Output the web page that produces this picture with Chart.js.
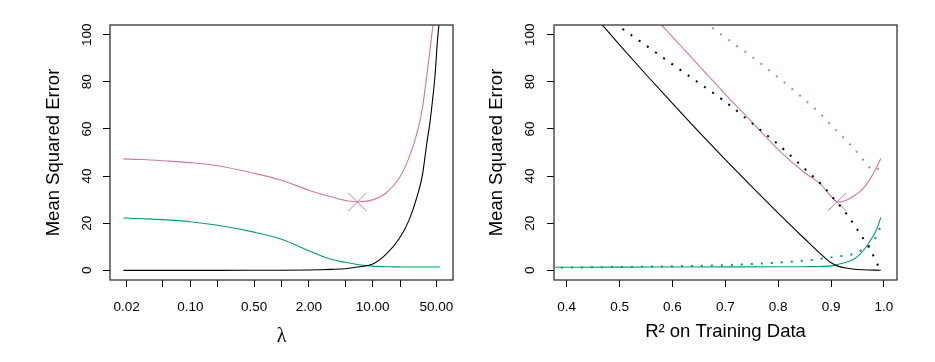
<!DOCTYPE html>
<html lang="en">
<head>
  <meta charset="UTF-8">
  <title>Lasso bias-variance</title>
  <script src="https://cdn.jsdelivr.net/npm/chart.js"></script>
  <style>
    body { margin: 0; background: #fff; }
    .wrap { position: relative; width: 935px; height: 362px; }
    canvas { position: absolute; top: 0; }
    #left { left: 0; }
    #right { left: 467px; }
  </style>
</head>
<body>
<div class="wrap">
  <canvas id="left" width="467" height="362"></canvas>
  <canvas id="right" width="468" height="362"></canvas>
</div>
<script>
  // left panel: curves against lambda
  const lambdaVals = [0.0184, 0.03, 0.05, 0.1, 0.2, 0.5, 1, 2, 2.7, 3.5, 5, 6.8, 10, 14, 19.6, 25, 31, 35.2, 39.3, 42.4, 46, 48.4, 51.3, 53.4, 55.2];
  const lassoMSE  = [47.3, 47.0, 46.5, 45.7, 44.4, 41.2, 38.2, 34.0, 32.4, 31.2, 29.7, 29.0, 29.9, 32.8, 39.2, 47.7, 59.0, 68.9, 83.0, 93.0, 104.5, 112, 125, 135, 145];
  const lassoVar  = [22.2, 21.9, 21.5, 20.6, 19.1, 16.2, 13.2, 8.3, 6.2, 4.7, 3.4, 2.5, 1.8, 1.55, 1.45, 1.4, 1.4, 1.4, 1.4, 1.4, 1.4, 1.4, 1.4, 1.4, 1.4];
  const lassoBias = [0, 0, 0, 0, 0, 0.02, 0.05, 0.15, 0.25, 0.4, 0.7, 1.4, 2.7, 6.8, 13.5, 21.2, 31.8, 40.6, 54, 62.4, 74.3, 83, 97.2, 104.5, 112];
  const lambdaTicks  = [0.02, 0.05, 0.1, 0.2, 0.5, 1, 2, 5, 10, 20, 50];
  const lambdaLabels = ['0.02', '', '0.10', '', '0.50', '', '2.00', '', '10.00', '', '50.00'];
  const lambdaMin = [6.8], lambdaMinMSE = [29.0];

  // right panel: curves against training R^2 (solid = lasso, dotted = ridge)
  const lassoBiasR2   = [0.46, 0.5, 0.55, 0.6, 0.65, 0.7, 0.75, 0.8, 0.85, 0.878, 0.89, 0.9, 0.91, 0.925, 0.94, 0.96, 0.994];
  const lassoBiasVals = [106.0, 95.7, 83.1, 70.8, 58.7, 47.0, 35.5, 24.3, 13.4, 7.4, 5.0, 3.2, 2.0, 1.1, 0.6, 0.25, 0.05];
  const ridgeBiasR2   = [0.49, 0.55, 0.6, 0.65, 0.7, 0.75, 0.8, 0.85, 0.887, 0.9, 0.924, 0.946, 0.967, 0.977, 0.985, 0.994];
  const ridgeBiasVals = [104.9, 95.4, 87.4, 79.5, 71.5, 62.5, 53.4, 43.1, 35.2, 31.7, 25.5, 18.5, 11.3, 7.6, 3.6, 0.2];
  const lassoMseR2    = [0.57, 0.6, 0.65, 0.7, 0.75, 0.8, 0.85, 0.88, 0.9, 0.911, 0.925, 0.941, 0.96, 0.973, 0.985, 0.994];
  const lassoMseVals  = [106.4, 99.1, 86.9, 74.7, 63.0, 51.2, 41.4, 36.6, 31.4, 29.0, 29.4, 31.2, 34.6, 38.5, 43.2, 47.5];
  const ridgeMseR2    = [0.66, 0.697, 0.758, 0.818, 0.876, 0.9, 0.942, 0.954, 0.967, 0.979, 0.99];
  const ridgeMseVals  = [105.5, 99.3, 89.3, 78.5, 67.2, 61.7, 51.9, 48.7, 45.3, 42.4, 43.1];
  const lassoVarR2    = [0.378, 0.5, 0.6, 0.7, 0.8, 0.85, 0.88, 0.904, 0.92, 0.941, 0.955, 0.967, 0.978, 0.986, 0.994];
  const lassoVarVals  = [1.3, 1.35, 1.4, 1.45, 1.5, 1.55, 1.65, 2.0, 2.9, 4.5, 6.9, 10.2, 14.0, 17.3, 22.5];
  const ridgeVarR2    = [0.389, 0.45, 0.5, 0.55, 0.6, 0.65, 0.7, 0.75, 0.8, 0.85, 0.87, 0.9, 0.92, 0.941, 0.958, 0.97, 0.98, 0.987, 0.993];
  const ridgeVarVals  = [1.15, 1.3, 1.4, 1.55, 1.75, 1.95, 2.2, 2.7, 3.3, 4.1, 4.6, 5.5, 6.1, 6.9, 8.6, 10.0, 12.5, 15.0, 18.5];
  const r2Ticks = [0.4, 0.5, 0.6, 0.7, 0.8, 0.9, 1.0];
  const r2Min = [0.911], r2MinMSE = [29.0];

  const mseTicks = [0, 20, 40, 60, 80, 100];

  const PINK = '#CC79A7', GREEN = '#009E73', BLACK = '#000000';
  Chart.defaults.font.family = '"Liberation Sans", Arial, sans-serif';
  Chart.defaults.color = '#000';

  const pts = (xs, ys) => xs.map((x, i) => ({ x: x, y: ys[i] }));

  function curve(xs, ys, color, dotted) {
    return {
      data: pts(xs, ys),
      borderColor: color,
      borderWidth: dotted ? 2 : 1.1,
      borderDash: dotted ? [2, 8] : [],
      pointRadius: 0,
      cubicInterpolationMode: 'monotone',
      fill: false
    };
  }

  function marker(xs, ys) {
    return {
      type: 'scatter',
      data: pts(xs, ys),
      pointStyle: 'crossRot',
      pointRadius: 13,
      borderColor: PINK,
      borderWidth: 1,
      backgroundColor: PINK
    };
  }

  // box round the plot region, like R's box()
  const frame = {
    id: 'frame',
    afterDraw(chart) {
      const a = chart.chartArea, c = chart.ctx;
      c.save();
      c.strokeStyle = '#333';
      c.lineWidth = 1.3;
      c.strokeRect(a.left, a.top, a.right - a.left, a.bottom - a.top);
      c.restore();
    }
  };

  function yAxis(width, tickPad, titlePad) {
    return {
      min: -4.1, max: 104.1,
      afterBuildTicks: s => { s.ticks = mseTicks.map(v => ({ value: v })); },
      afterFit: s => { s.width = width; },
      grid: { drawOnChartArea: false, tickLength: 7, color: '#000' },
      border: { display: false },
      ticks: { minRotation: 90, maxRotation: 90, crossAlign: 'center', padding: tickPad, font: { size: 13.5 } },
      title: { display: true, text: 'Mean Squared Error', font: { size: 18.5 }, padding: { top: titlePad, bottom: 0 } }
    };
  }

  new Chart(document.getElementById('left'), {
    type: 'line',
    data: {
      datasets: [
        curve(lambdaVals, lassoBias, BLACK, false),
        curve(lambdaVals, lassoVar, GREEN, false),
        curve(lambdaVals, lassoMSE, PINK, false),
        marker(lambdaMin, lambdaMinMSE)
      ]
    },
    options: {
      responsive: false,
      animation: false,
      layout: { padding: { left: 0, top: 25, right: 13, bottom: 0 } },
      plugins: { legend: { display: false }, tooltip: { enabled: false } },
      scales: {
        x: {
          type: 'logarithmic',
          min: 0.01313, max: 76.1,
          afterBuildTicks: s => { s.ticks = lambdaTicks.map(v => ({ value: v })); },
          afterFit: s => { s.height = 82; },
          grid: { drawOnChartArea: false, tickLength: 7, color: '#000' },
          border: { display: false },
          ticks: { autoSkip: false, maxRotation: 0, padding: 12, font: { size: 13.5 },
                   callback: (v, i) => lambdaLabels[i] },
          title: { display: true, text: 'λ', font: { family: '"Liberation Serif", serif', size: 20 },
                   padding: { top: 0, bottom: 13 } }
        },
        y: yAxis(110, 4, 43)
      }
    },
    plugins: [frame]
  });

  new Chart(document.getElementById('right'), {
    type: 'line',
    data: {
      datasets: [
        curve(lassoBiasR2, lassoBiasVals, BLACK, false),
        curve(ridgeBiasR2, ridgeBiasVals, BLACK, true),
        curve(lassoVarR2, lassoVarVals, GREEN, false),
        curve(ridgeVarR2, ridgeVarVals, GREEN, true),
        curve(lassoMseR2, lassoMseVals, PINK, false),
        curve(ridgeMseR2, ridgeMseVals, PINK, true),
        marker(r2Min, r2MinMSE)
      ]
    },
    options: {
      responsive: false,
      animation: false,
      layout: { padding: { left: 0, top: 25, right: 38, bottom: 0 } },
      plugins: { legend: { display: false }, tooltip: { enabled: false } },
      scales: {
        x: {
          type: 'linear',
          min: 0.376, max: 1.0246,
          afterBuildTicks: s => { s.ticks = r2Ticks.map(v => ({ value: v })); },
          afterFit: s => { s.height = 82; },
          grid: { drawOnChartArea: false, tickLength: 7, color: '#000' },
          border: { display: false },
          ticks: { autoSkip: false, maxRotation: 0, padding: 12, font: { size: 13.5 },
                   callback: v => v.toFixed(1) },
          title: { display: true, text: 'R² on Training Data', font: { size: 18.5 },
                   padding: { top: 0, bottom: 19 } }
        },
        y: yAxis(87, 5, 19)
      }
    },
    plugins: [frame]
  });
</script>
</body>
</html>
